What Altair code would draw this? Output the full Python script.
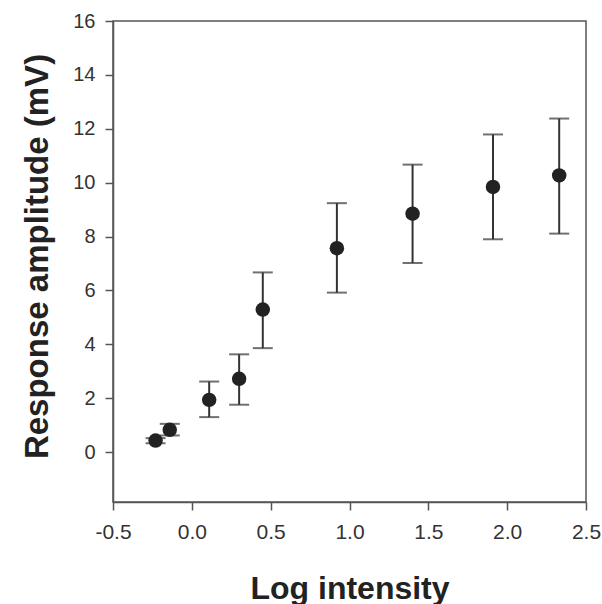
import altair as alt
import pandas as pd

log_intensity = [-0.23, -0.14, 0.11, 0.30, 0.45, 0.92, 1.40, 1.91, 2.33]
amplitude = [0.43, 0.83, 1.94, 2.72, 5.29, 7.57, 8.85, 9.84, 10.27]
lower = [0.33, 0.62, 1.30, 1.76, 3.86, 5.92, 7.02, 7.90, 8.11]
upper = [0.52, 1.05, 2.62, 3.63, 6.67, 9.24, 10.67, 11.79, 12.38]
x_ticks = [-0.5, 0.0, 0.5, 1.0, 1.5, 2.0, 2.5]
y_ticks = [0, 2, 4, 6, 8, 10, 12, 14, 16]

df = pd.DataFrame({"x": log_intensity, "y": amplitude, "lo": lower, "hi": upper})

FONT = "Liberation Sans"
x_scale = alt.Scale(domain=[-0.5, 2.5], nice=False, zero=False)
y_scale = alt.Scale(domain=[-1.85, 16], nice=False, zero=False)

x_axis = alt.Axis(
    title="Log intensity", values=x_ticks,
    labelExpr="datum.value < 0 ? '-' + format(-datum.value, '.1f') : format(datum.value, '.1f')",
    grid=False, tickSize=8, labelPadding=11, labelFontSize=21, labelFont=FONT,
    labelColor="#333", titleFont=FONT, titleFontSize=32, titleFontWeight="bold",
    titleColor="#222", titleBaseline="alphabetic", titleY=96,
    domainColor="#555", tickColor="#555", domainWidth=1.5, tickWidth=1.5,
    labelFlush=False,
)
y_axis = alt.Axis(
    title="Response amplitude (mV)", values=y_ticks,
    grid=False, tickSize=8, labelPadding=10, labelFontSize=20, labelFont=FONT,
    labelColor="#333", titleFont=FONT, titleFontSize=33, titleFontWeight="bold",
    titleColor="#222", titleBaseline="alphabetic", titleX=-66, titleY=235,
    titleAngle=-90, titleAlign="center",
    domainColor="#555", tickColor="#555", domainWidth=1.5, tickWidth=1.5,
    labelFlush=False,
)

base = alt.Chart(df)

rules = base.mark_rule(color="#333", strokeWidth=2).encode(
    x=alt.X("x:Q", scale=x_scale, axis=x_axis),
    y=alt.Y("lo:Q", scale=y_scale, axis=y_axis),
    y2="hi:Q",
)
cap_lo = base.mark_tick(orient="horizontal", size=20, thickness=2, color="#333").encode(
    x=alt.X("x:Q", scale=x_scale), y=alt.Y("lo:Q", scale=y_scale)
)
cap_hi = base.mark_tick(orient="horizontal", size=20, thickness=2, color="#333").encode(
    x=alt.X("x:Q", scale=x_scale), y=alt.Y("hi:Q", scale=y_scale)
)
points = base.mark_circle(size=210, color="#222", opacity=1).encode(
    x=alt.X("x:Q", scale=x_scale), y=alt.Y("y:Q", scale=y_scale)
)

chart = (
    alt.layer(rules, cap_lo, cap_hi, points)
    .properties(
        width=473, height=481,
        autosize=alt.AutoSizeParams(type="none"),
        padding={"left": 113, "top": 21, "right": 16, "bottom": 102},
    )
    .configure_view(stroke="#555", strokeWidth=1.5)
)

chart.save("out.html", embed_options={"renderer": "svg", "actions": False})
